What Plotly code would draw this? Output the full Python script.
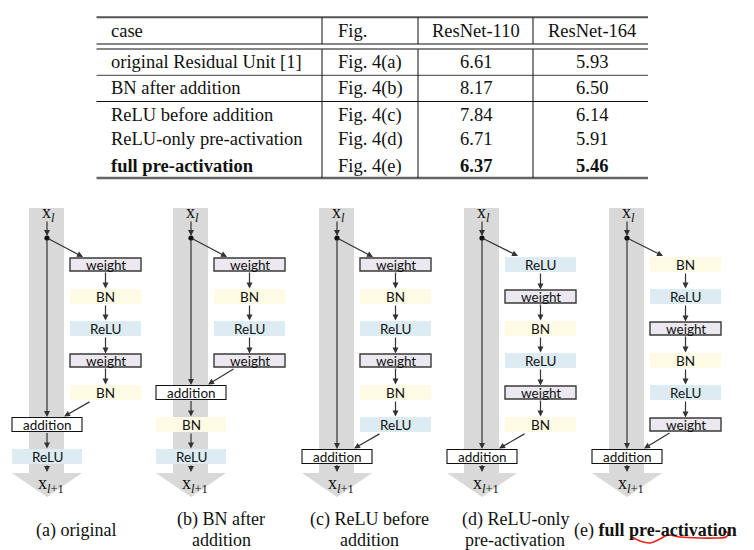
import plotly.graph_objects as go

# ---------------- data ----------------
table_header = ["case", "Fig.", "ResNet-110", "ResNet-164"]
cases = ["original Residual Unit [1]", "BN after addition", "ReLU before addition",
         "ReLU-only pre-activation", "full pre-activation"]
figs = ["Fig. 4(a)", "Fig. 4(b)", "Fig. 4(c)", "Fig. 4(d)", "Fig. 4(e)"]
resnet110 = [6.61, 8.17, 7.84, 6.71, 6.37]
resnet164 = [5.93, 6.50, 6.14, 5.91, 5.46]
best_row = 4

branch_layers = [
    ["weight", "BN", "ReLU", "weight", "BN"],
    ["weight", "BN", "ReLU", "weight"],
    ["weight", "BN", "ReLU", "weight", "BN", "ReLU"],
    ["ReLU", "weight", "BN", "ReLU", "weight", "BN"],
    ["BN", "ReLU", "weight", "BN", "ReLU", "weight"],
]
post_layers = [["ReLU"], ["BN", "ReLU"], [], [], []]
captions = [["(a) original"], ["(b) BN after", "addition"], ["(c) ReLU before", "addition"],
            ["(d) ReLU-only", "pre-activation"], ["(e) <b>full pre-activation</b>"]]
squiggle_x = [632, 640, 650, 660, 668, 680, 700, 715, 726, 728, 724]
squiggle_y = [537, 541, 543, 539, 535, 537, 538, 538, 537, 533, 531]

# ---------------- layout constants ----------------
W, H = 754, 550
SERIF = "Liberation Serif"
SANS = "Lato"
band_lefts = [29, 173, 319, 464, 609]
caption_x = [76, 221, 369, 515, 655]
ROW0, STEP = 264.5, 32
BAND_TOP, BAND_BOT, TIP = 208, 473, 497
DOT_Y = 238
styles = {
    "weight": dict(fill="#ebe8f0", line="#3a3a3a", lw=1.4, h=13),
    "BN": dict(fill="#fdfbe3", line=None, lw=0, h=15),
    "ReLU": dict(fill="#dcecf2", line=None, lw=0, h=15),
    "addition": dict(fill="white", line="#111111", lw=1.1, h=14),
}
ARROW_C = "#333333"

shapes = []
annotations = []


def box(x0, x1, yc, kind):
    st = styles[kind]
    h = st["h"]
    shp = dict(type="rect", xref="x", yref="y", x0=x0, x1=x1, y0=yc - h / 2, y1=yc + h / 2,
               fillcolor=st["fill"], layer="above")
    if st["line"]:
        shp["line"] = dict(color=st["line"], width=st["lw"])
    else:
        shp["line"] = dict(width=0)
    shapes.append(shp)
    annotations.append(dict(x=(x0 + x1) / 2, y=yc, xref="x", yref="y", text=kind, showarrow=False,
                            font=dict(family=SANS, size=13.5, color="#111"), xanchor="center",
                            yanchor="middle"))
    return yc - h / 2, yc + h / 2


def arrow(x0, y0, x1, y1):
    annotations.append(dict(x=x1, y=y1, ax=x0, ay=y0, xref="x", yref="y", axref="x", ayref="y",
                            text="", showarrow=True, arrowhead=2, arrowsize=1.0, arrowwidth=1.2,
                            arrowcolor=ARROW_C, standoff=0, startstandoff=0))


for d, bl in enumerate(band_lefts):
    mx = bl + 18
    # gray band and big arrow head
    shapes.append(dict(type="rect", xref="x", yref="y", x0=bl, x1=bl + 35, y0=BAND_TOP, y1=BAND_BOT,
                       fillcolor="#d9d9d9", line=dict(width=0), layer="below"))
    shapes.append(dict(type="path", xref="x", yref="y",
                       path=f"M {bl - 17},{BAND_BOT} L {bl + 53},{BAND_BOT} L {mx},{TIP} Z",
                       fillcolor="#d9d9d9", line=dict(width=0), layer="below"))
    annotations.append(dict(x=mx + 1, y=213, xref="x", yref="y", text="x<sub><i>l</i></sub>",
                            showarrow=False, font=dict(family=SERIF, size=18, color="#111"),
                            xanchor="center", yanchor="middle"))
    annotations.append(dict(x=mx + 4, y=484, xref="x", yref="y", text="x<sub><i>l</i>+1</sub>",
                            showarrow=False, font=dict(family=SERIF, size=18, color="#111"),
                            xanchor="center", yanchor="middle"))
    # branch
    bx0, bx1 = bl + 41, bl + 112
    bcx = (bx0 + bx1) / 2
    tops, bots = [], []
    for i, kind in enumerate(branch_layers[d]):
        t, b = box(bx0, bx1, ROW0 + STEP * i, kind)
        tops.append(t)
        bots.append(b)
    for i in range(len(tops) - 1):
        arrow(bcx, bots[i], bcx, tops[i + 1] - 0.5)
    # addition and post layers
    ax0, ax1 = bl - 17, bl + 53
    n = len(branch_layers[d])
    at, ab = box(ax0, ax1, ROW0 + STEP * n, "addition")
    prev_b = ab
    for j, kind in enumerate(post_layers[d]):
        t, b = box(ax0, ax1, ROW0 + STEP * (n + 1 + j), kind)
        arrow(mx, prev_b, mx, t - 0.5)
        prev_b = b
    arrow(mx, prev_b, mx, BAND_BOT - 1)
    # main path
    arrow(mx, 220, mx, DOT_Y - 2)
    arrow(mx, DOT_Y, mx, at - 0.5)
    arrow(mx, DOT_Y, bx0 + 13, tops[0] - 1)
    arrow(bl + 62, bots[-1] + 1, bl + 35, at - 1)
    shapes.append(dict(type="circle", xref="x", yref="y", x0=mx - 2.6, x1=mx + 2.6,
                       y0=DOT_Y - 2.6, y1=DOT_Y + 2.6, fillcolor="#111", line=dict(width=0),
                       layer="above"))
    # caption
    lines = captions[d]
    if len(lines) == 1:
        ys = [530]
    else:
        ys = [519, 540]
    for txt, yy in zip(lines, ys):
        annotations.append(dict(x=caption_x[d], y=yy, xref="x", yref="y", text=txt, showarrow=False,
                                font=dict(family=SERIF, size=18, color="#111"),
                                xanchor="center", yanchor="middle"))

# ---------------- table ----------------
T_L, T_R = 96.5, 648
col_div = [322, 418, 533]
col_case_x, col_fig_x = 109, 336
col_110_x, col_164_x = 476, 592
head_y = 31
row_ys = [62, 88, 115, 139, 166]


def hline(y, color="#111", width=1):
    shapes.append(dict(type="line", xref="x", yref="y", x0=T_L, x1=T_R, y0=y, y1=y,
                       line=dict(color=color, width=width)))


hline(17.3, "#555", 2)
hline(44, "#111", 1.2)
hline(49, "#111", 1.2)
hline(75.3, "#666", 1.2)
hline(101.5, "#111", 1.2)
hline(178, "#666", 2.5)
for xv in col_div:
    shapes.append(dict(type="line", xref="x", yref="y", x0=xv, x1=xv, y0=17.3, y1=44,
                       line=dict(color="#222", width=1.1)))
    shapes.append(dict(type="line", xref="x", yref="y", x0=xv, x1=xv, y0=49, y1=178,
                       line=dict(color="#222", width=1.1)))

TFONT = dict(family=SERIF, size=18.5, color="#111")
annotations.append(dict(x=col_case_x, y=head_y, text=table_header[0], xanchor="left"))
annotations.append(dict(x=col_fig_x, y=head_y, text=table_header[1], xanchor="left"))
annotations.append(dict(x=col_110_x, y=head_y, text=table_header[2], xanchor="center"))
annotations.append(dict(x=col_164_x, y=head_y, text=table_header[3], xanchor="center"))
for i in range(len(cases)):
    bold = i == best_row
    wrap = (lambda s: f"<b>{s}</b>") if bold else (lambda s: s)
    annotations.append(dict(x=col_case_x, y=row_ys[i], text=wrap(cases[i]), xanchor="left"))
    annotations.append(dict(x=col_fig_x, y=row_ys[i], text=figs[i], xanchor="left"))
    annotations.append(dict(x=col_110_x, y=row_ys[i], text=wrap(f"{resnet110[i]:.2f}"), xanchor="center"))
    annotations.append(dict(x=col_164_x, y=row_ys[i], text=wrap(f"{resnet164[i]:.2f}"), xanchor="center"))
for a in annotations[-(4 + 4 * len(cases)):]:
    a.update(xref="x", yref="y", showarrow=False, font=TFONT, yanchor="middle")

fig = go.Figure()
fig.add_trace(go.Scatter(x=squiggle_x, y=squiggle_y, mode="lines",
                         line=dict(color="#e8231c", width=1.6, shape="spline"),
                         hoverinfo="skip", showlegend=False))
fig.update_layout(
    width=W, height=H, margin=dict(l=0, r=0, t=0, b=0),
    paper_bgcolor="white", plot_bgcolor="white",
    xaxis=dict(range=[0, W], visible=False, fixedrange=True),
    yaxis=dict(range=[H, 0], visible=False, fixedrange=True),
    shapes=shapes, annotations=annotations, showlegend=False,
)
fig.write_html("out.html", config={"displayModeBar": False},
               post_script="document.body.style.margin='0';document.body.style.overflow='hidden';")
